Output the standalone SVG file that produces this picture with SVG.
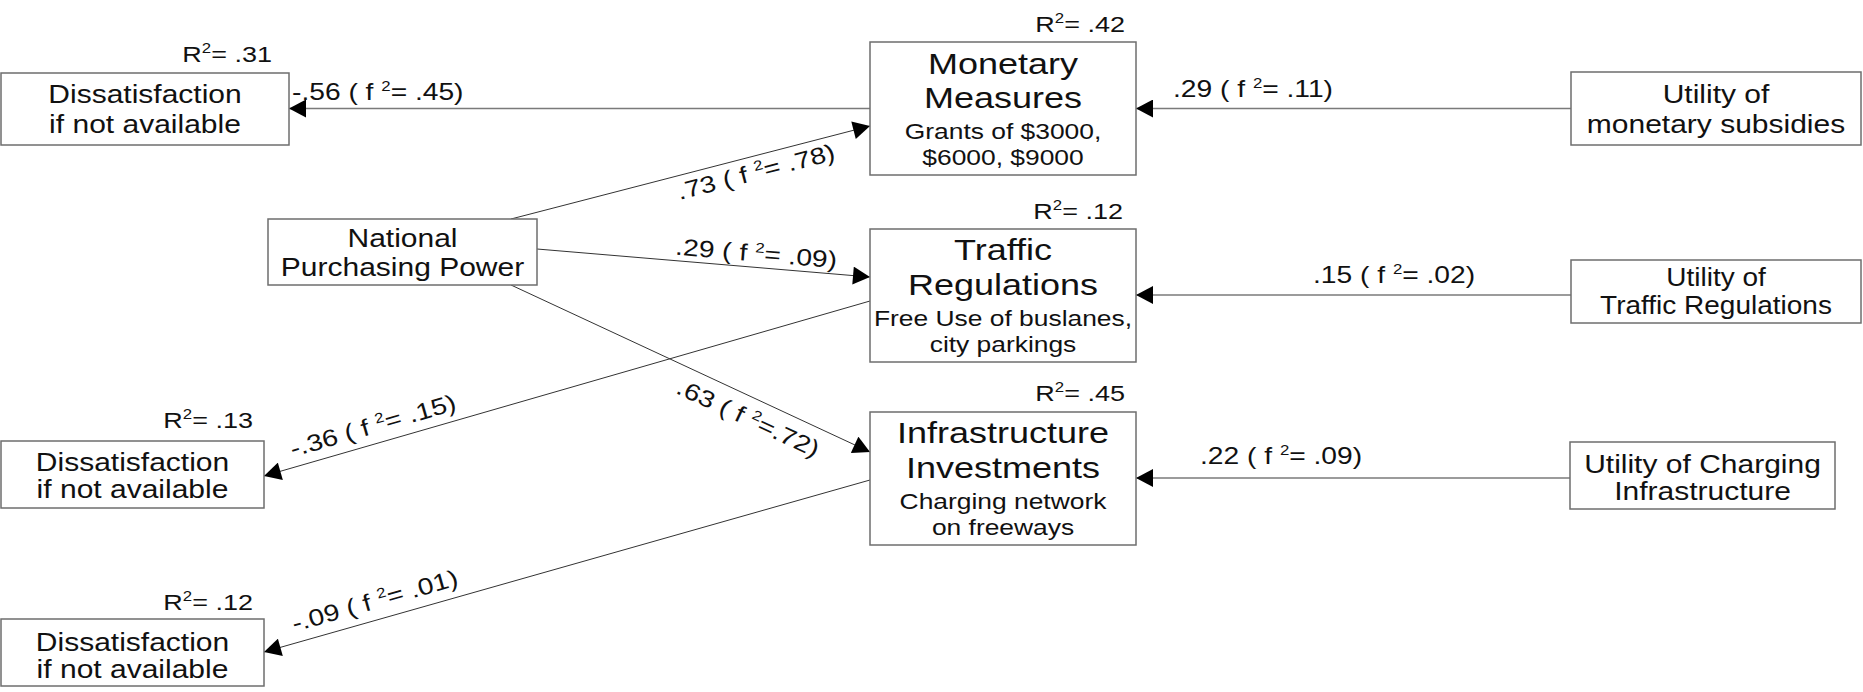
<svg xmlns="http://www.w3.org/2000/svg" width="1863" height="692" viewBox="0 0 1863 692">
<defs>
<style>
.box{fill:#fff;stroke:#6e6e6e;stroke-width:1.5}
.t{font-family:"Liberation Sans",Arial,Helvetica,sans-serif;fill:#111}
.n{font-size:25px;text-anchor:middle}
.ttl{font-size:30px;text-anchor:middle}
.sub{font-size:22px;text-anchor:middle}
.r2{font-size:22.5px;text-anchor:end}
.el{font-size:23.5px}
.elm{font-size:23.5px;text-anchor:middle}
.h{stroke:#7a7a7a;stroke-width:1.5;fill:none}
.d{stroke:#333;stroke-width:1;fill:none}
</style>
<marker id="ah" markerUnits="userSpaceOnUse" markerWidth="18" markerHeight="18" viewBox="0 0 17 18" refX="17" refY="9" orient="auto">
<path d="M0,0 L17,9 L0,18 Z" fill="#000"/>
</marker>
</defs>
<rect width="1863" height="692" fill="#fff"/>

<g id="connectors">
<line class="h" x1="870" y1="108.5" x2="289" y2="108.5" marker-end="url(#ah)"/>
<line class="h" x1="1571" y1="108.5" x2="1136" y2="108.5" marker-end="url(#ah)"/>
<line class="h" x1="1571" y1="295" x2="1136" y2="295" marker-end="url(#ah)"/>
<line class="h" x1="1570" y1="478" x2="1136" y2="478" marker-end="url(#ah)"/>
<line class="d" x1="511" y1="219" x2="870" y2="126" marker-end="url(#ah)"/>
<line class="d" x1="537" y1="249" x2="870" y2="277" marker-end="url(#ah)"/>
<line class="d" x1="511" y1="285" x2="870" y2="452" marker-end="url(#ah)"/>
<line class="d" x1="870" y1="301" x2="264" y2="476" marker-end="url(#ah)"/>
<line class="d" x1="870" y1="480" x2="264" y2="652" marker-end="url(#ah)"/>
<text class="t el" transform="translate(292,100) scale(1.2,1)">-.56 ( f <tspan font-size="14" dy="-9">2</tspan><tspan dy="9">= .45)</tspan></text>
<text class="t el" transform="translate(1173,97) scale(1.2,1)">.29 ( f <tspan font-size="14" dy="-9">2</tspan><tspan dy="9">= .11)</tspan></text>
<text class="t el" transform="translate(1313,283) scale(1.2,1)">.15 ( f <tspan font-size="14" dy="-9">2</tspan><tspan dy="9">= .02)</tspan></text>
<text class="t el" transform="translate(1200,464) scale(1.2,1)">.22 ( f <tspan font-size="14" dy="-9">2</tspan><tspan dy="9">= .09)</tspan></text>
<text class="t elm" transform="translate(752,156.5) rotate(-14.5) scale(1.2,1)" y="24">.73 ( f <tspan font-size="14" dy="-9">2</tspan><tspan dy="9">= .78)</tspan></text>
<text class="t elm" transform="translate(755,267.3) rotate(4.8) scale(1.2,1)" y="-6">.29 ( f <tspan font-size="14" dy="-9">2</tspan><tspan dy="9">= .09)</tspan></text>
<text class="t elm" transform="translate(757,399) rotate(24.9) scale(1.2,1)" y="29">.63 ( f <tspan font-size="14" dy="-9">2</tspan><tspan dy="9">=.72)</tspan></text>
<text class="t elm" transform="translate(378,443) rotate(-16.1) scale(1.2,1)" y="-10">-.36 ( f <tspan font-size="14" dy="-9">2</tspan><tspan dy="9">= .15)</tspan></text>
<text class="t elm" transform="translate(380,619) rotate(-15.85) scale(1.2,1)" y="-11">-.09 ( f <tspan font-size="14" dy="-9">2</tspan><tspan dy="9">= .01)</tspan></text>
</g>

<g id="diss1">
<rect class="box" x="1" y="73" width="288" height="72"/>
<text class="t n" transform="translate(145,103) scale(1.2,1)">Dissatisfaction</text>
<text class="t n" transform="translate(145,133) scale(1.2,1)">if not available</text>
<text class="t r2" transform="translate(272,62) scale(1.2,1)">R<tspan font-size="14" dy="-9">2</tspan><tspan dy="9">= .31</tspan></text>
</g>

<g id="diss2">
<rect class="box" x="1" y="441" width="263" height="67"/>
<text class="t n" transform="translate(132.5,471) scale(1.2,1)">Dissatisfaction</text>
<text class="t n" transform="translate(132.5,498) scale(1.2,1)">if not available</text>
<text class="t r2" transform="translate(253,428) scale(1.2,1)">R<tspan font-size="14" dy="-9">2</tspan><tspan dy="9">= .13</tspan></text>
</g>

<g id="diss3">
<rect class="box" x="1" y="619" width="263" height="67"/>
<text class="t n" transform="translate(132.5,651) scale(1.2,1)">Dissatisfaction</text>
<text class="t n" transform="translate(132.5,678) scale(1.2,1)">if not available</text>
<text class="t r2" transform="translate(253,610) scale(1.2,1)">R<tspan font-size="14" dy="-9">2</tspan><tspan dy="9">= .12</tspan></text>
</g>

<g id="npp">
<rect class="box" x="268" y="219" width="269" height="66"/>
<text class="t n" transform="translate(402.5,247) scale(1.2,1)">National</text>
<text class="t n" transform="translate(402.5,276) scale(1.2,1)">Purchasing Power</text>
</g>

<g id="monetary">
<rect class="box" x="870" y="42" width="266" height="133"/>
<text class="t ttl" transform="translate(1003,74) scale(1.2,1)">Monetary</text>
<text class="t ttl" transform="translate(1003,108) scale(1.2,1)">Measures</text>
<text class="t sub" transform="translate(1003,139) scale(1.2,1)">Grants of $3000,</text>
<text class="t sub" transform="translate(1003,165) scale(1.2,1)">$6000, $9000</text>
<text class="t r2" transform="translate(1125,32) scale(1.2,1)">R<tspan font-size="14" dy="-9">2</tspan><tspan dy="9">= .42</tspan></text>
</g>

<g id="traffic">
<rect class="box" x="870" y="229" width="266" height="133"/>
<text class="t ttl" transform="translate(1003,260) scale(1.2,1)">Traffic</text>
<text class="t ttl" transform="translate(1003,295) scale(1.2,1)">Regulations</text>
<text class="t sub" transform="translate(1003,326) scale(1.2,1)">Free Use of buslanes,</text>
<text class="t sub" transform="translate(1003,352) scale(1.2,1)">city parkings</text>
<text class="t r2" transform="translate(1123,219) scale(1.2,1)">R<tspan font-size="14" dy="-9">2</tspan><tspan dy="9">= .12</tspan></text>
</g>

<g id="infra">
<rect class="box" x="870" y="412" width="266" height="133"/>
<text class="t ttl" transform="translate(1003,443) scale(1.2,1)">Infrastructure</text>
<text class="t ttl" transform="translate(1003,478) scale(1.2,1)">Investments</text>
<text class="t sub" transform="translate(1003,509) scale(1.2,1)">Charging network</text>
<text class="t sub" transform="translate(1003,535) scale(1.2,1)">on freeways</text>
<text class="t r2" transform="translate(1125,401) scale(1.2,1)">R<tspan font-size="14" dy="-9">2</tspan><tspan dy="9">= .45</tspan></text>
</g>

<g id="util-monetary">
<rect class="box" x="1571" y="72" width="290" height="73"/>
<text class="t n" transform="translate(1716,103) scale(1.2,1)">Utility of</text>
<text class="t n" transform="translate(1716,133) scale(1.2,1)">monetary subsidies</text>
</g>

<g id="util-traffic">
<rect class="box" x="1571" y="260" width="290" height="63"/>
<text class="t n" transform="translate(1716,286) scale(1.12,1)">Utility of</text>
<text class="t n" transform="translate(1716,314) scale(1.12,1)">Traffic Regulations</text>
</g>

<g id="util-charging">
<rect class="box" x="1570" y="442" width="265" height="67"/>
<text class="t n" transform="translate(1702.5,473) scale(1.2,1)">Utility of Charging</text>
<text class="t n" transform="translate(1702.5,500) scale(1.2,1)">Infrastructure</text>
</g>
</svg>
